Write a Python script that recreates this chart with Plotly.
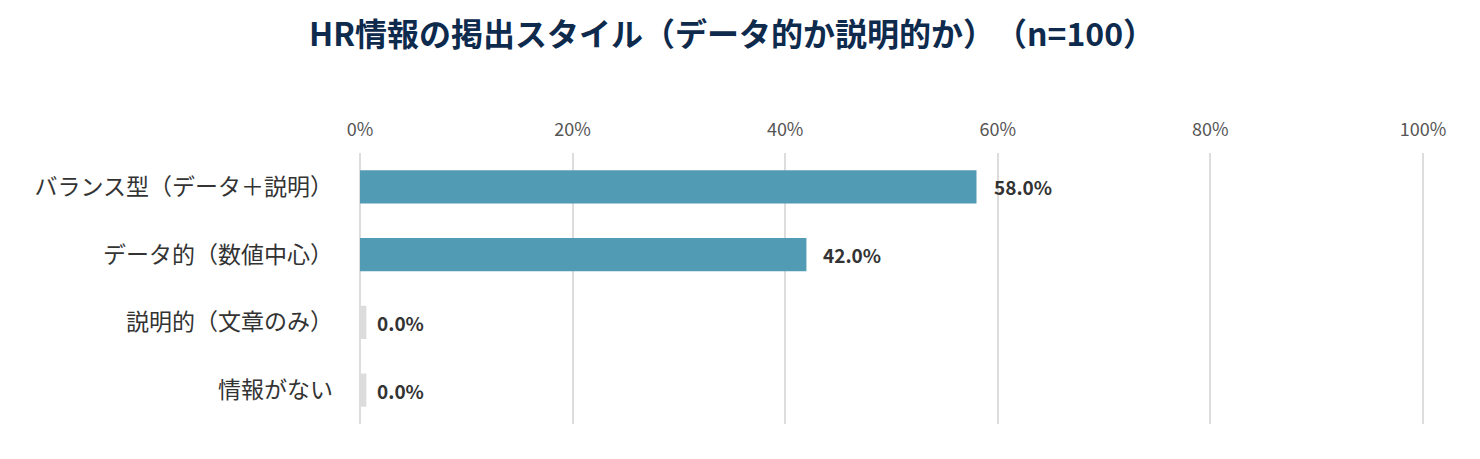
import plotly.graph_objects as go

categories = ["バランス型（データ＋説明）", "データ的（数値中心）", "説明的（文章のみ）", "情報がない"]
values = [58.0, 42.0, 0.0, 0.0]
tick_vals = [0, 20, 40, 60, 80, 100]
tick_text = ["0%", "20%", "40%", "60%", "80%", "100%"]
title_text = "HR情報の掲出スタイル（データ的か説明的か）\u200b（n=100）"

FONT = "Noto Sans CJK JP"
BAR_COLOR = "#529bb5"
ZERO_COLOR = "#dcdcdc"
ZERO_STUB = 0.6  # visual placeholder width for zero values

bar_x = [v if v > 0 else ZERO_STUB for v in values]
colors = [BAR_COLOR if v > 0 else ZERO_COLOR for v in values]

fig = go.Figure()
fig.add_trace(go.Bar(
    y=categories, x=bar_x, orientation="h",
    marker=dict(color=colors, line=dict(width=0)),
    width=0.49, hoverinfo="skip",
))

for c, v in zip(categories, values):
    fig.add_annotation(
        x=v, y=c, text=f"<b>{v:.1f}%</b>", showarrow=False,
        xanchor="left", xshift=15, yanchor="middle",
        font=dict(family=FONT, size=19, color="#333333"),
    )

# title as a paper-anchored annotation
fig.add_annotation(
    xref="paper", yref="paper", x=0.35, y=1.0, yshift=121,
    text=f"<b>{title_text}</b>", showarrow=False,
    xanchor="center", yanchor="middle",
    font=dict(family=FONT, size=32, color="#0e2a4d"),
)

fig.update_layout(
    width=1464, height=443,
    margin=dict(l=352, r=48, t=145, b=27),
    paper_bgcolor="white", plot_bgcolor="white",
    showlegend=False,
    font=dict(family=FONT),
    xaxis=dict(
        side="top", range=[0, 100.1], tickvals=tick_vals, ticktext=tick_text,
        showgrid=True, gridcolor="#dddddd", gridwidth=2,
        zeroline=True, zerolinecolor="#dddddd", zerolinewidth=2,
        showline=False, ticks="",
        ticklabelstandoff=12,
        tickfont=dict(family=FONT, size=18, color="#555555"),
        fixedrange=True,
    ),
    yaxis=dict(
        categoryorder="array", categoryarray=categories[::-1],
        showgrid=False, zeroline=False, showline=False, ticks="",
        ticklabelstandoff=26,
        tickfont=dict(family=FONT, size=23, color="#333333"),
        fixedrange=True,
    ),
)

fig.write_html("out.html")
